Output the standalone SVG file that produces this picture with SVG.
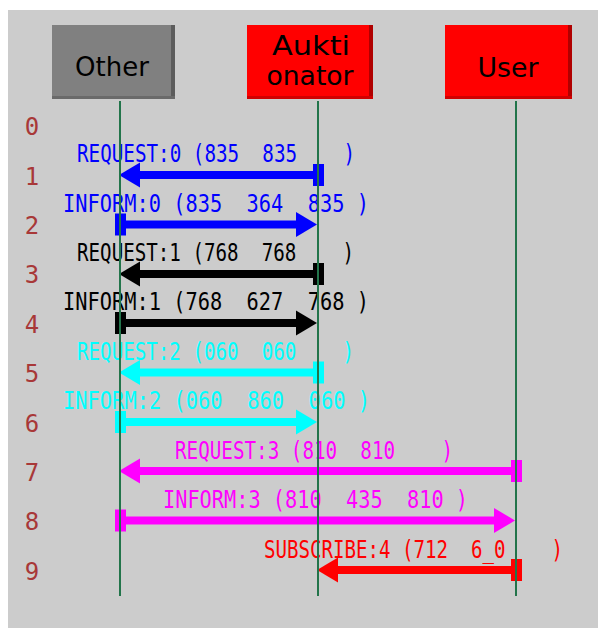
<svg xmlns="http://www.w3.org/2000/svg" width="598" height="628" viewBox="0 0 598 628">
<style>
.lbl{font-family:"DejaVu Sans Mono","Liberation Mono",monospace;font-size:24px;white-space:pre}
.num{font-family:"DejaVu Sans Mono","Liberation Mono",monospace;font-size:24px;fill:#a83838;text-anchor:middle}
.nt{font-family:"DejaVu Sans","Liberation Sans",sans-serif;font-size:27px;fill:#000;text-anchor:middle}
.life{stroke:#22744a;stroke-width:2}
.blue{fill:#0000ff}.black{fill:#000000}.cyan{fill:#00ffff}.mag{fill:#ff00ff}.red{fill:#ff0000}
</style>
<rect x="0" y="0" width="598" height="628" fill="#ffffff"/>
<rect x="8" y="10" width="590" height="618" fill="#cccccc"/>
<g id="node-other">
<rect x="52" y="25" width="123" height="74" fill="#808080"/>
<rect x="171" y="25" width="4" height="74" fill="#5c5c5c"/>
<rect x="52" y="96" width="123" height="3" fill="#6a6a6a"/>
<text class="nt" x="112" y="76" textLength="74" lengthAdjust="spacingAndGlyphs">Other</text>
</g>
<g id="node-auktionator">
<rect x="247" y="25" width="126" height="74" fill="#ff0000"/>
<rect x="369" y="25" width="4" height="74" fill="#b00000"/>
<rect x="247" y="96" width="126" height="3" fill="#d00000"/>
<text class="nt" x="311" y="55" textLength="78" lengthAdjust="spacingAndGlyphs">Aukti</text>
<text class="nt" x="310" y="85" textLength="87" lengthAdjust="spacingAndGlyphs">onator</text>
</g>
<g id="node-user">
<rect x="445" y="25" width="127" height="74" fill="#ff0000"/>
<rect x="568" y="25" width="4" height="74" fill="#b00000"/>
<rect x="445" y="96" width="127" height="3" fill="#d00000"/>
<text class="nt" x="508" y="77" textLength="61" lengthAdjust="spacingAndGlyphs">User</text>
</g>
<g id="row-numbers">
<text class="num" x="32" y="135">0</text>
<text class="num" x="32" y="184.5">1</text>
<text class="num" x="32" y="234">2</text>
<text class="num" x="32" y="283">3</text>
<text class="num" x="32" y="332.5">4</text>
<text class="num" x="32" y="382">5</text>
<text class="num" x="32" y="431.5">6</text>
<text class="num" x="32" y="481">7</text>
<text class="num" x="32" y="530">8</text>
<text class="num" x="32" y="579.5">9</text>
</g>
<g id="connectors" xml:space="preserve">
<g class="blue">
<text class="lbl" x="77" y="162" textLength="278" lengthAdjust="spacingAndGlyphs">REQUEST:0 (835  835    )</text>
<rect x="313" y="164" width="11" height="22"/><rect x="139" y="171" width="179" height="8"/><polygon points="119,175 140,162.5 140,187.5"/>
<text class="lbl" x="63" y="211.5" textLength="306" lengthAdjust="spacingAndGlyphs">INFORM:0 (835  364  835 )</text>
<rect x="115" y="213.5" width="11" height="22"/><rect x="120" y="220.5" width="177" height="8"/><polygon points="317,224.5 296,212 296,237"/>
</g>
<g class="black">
<text class="lbl" x="77" y="261" textLength="277" lengthAdjust="spacingAndGlyphs">REQUEST:1 (768  768    )</text>
<rect x="313" y="263" width="11" height="22"/><rect x="139" y="270" width="179" height="8"/><polygon points="119,274 140,261.5 140,286.5"/>
<text class="lbl" x="63" y="310" textLength="306" lengthAdjust="spacingAndGlyphs">INFORM:1 (768  627  768 )</text>
<rect x="115" y="312" width="11" height="22"/><rect x="120" y="319" width="177" height="8"/><polygon points="317,323 296,310.5 296,335.5"/>
</g>
<g class="cyan">
<text class="lbl" x="77" y="359.5" textLength="277" lengthAdjust="spacingAndGlyphs">REQUEST:2 (060  060    )</text>
<rect x="313" y="361.5" width="11" height="22"/><rect x="139" y="368.5" width="179" height="8"/><polygon points="119,372.5 140,360 140,385"/>
<text class="lbl" x="63" y="409" textLength="307" lengthAdjust="spacingAndGlyphs">INFORM:2 (060  860  060 )</text>
<rect x="115" y="411" width="11" height="22"/><rect x="120" y="418" width="177" height="8"/><polygon points="317,422 296,409.5 296,434.5"/>
</g>
<g class="mag">
<text class="lbl" x="175" y="458.5" textLength="278" lengthAdjust="spacingAndGlyphs">REQUEST:3 (810  810    )</text>
<rect x="511" y="460" width="11" height="22"/><rect x="139" y="467" width="377" height="8"/><polygon points="119,471 140,458.5 140,483.5"/>
<text class="lbl" x="163" y="507.5" textLength="305" lengthAdjust="spacingAndGlyphs">INFORM:3 (810  435  810 )</text>
<rect x="115" y="509.5" width="11" height="22"/><rect x="120" y="516.5" width="374" height="8"/><polygon points="515,520.5 494,508 494,533"/>
</g>
<g class="red">
<text class="lbl" x="264" y="557.5" textLength="299" lengthAdjust="spacingAndGlyphs">SUBSCRIBE:4 (712  6_0    )</text>
<rect x="511" y="559" width="11" height="22"/><rect x="337" y="566" width="179" height="8"/><polygon points="317,570 338,557.5 338,582.5"/>
</g>
</g>
<g id="lifelines">
<line class="life" x1="120" y1="101" x2="120" y2="596"/>
<line class="life" x1="318" y1="101" x2="318" y2="596"/>
<line class="life" x1="516" y1="101" x2="516" y2="596"/>
</g>
</svg>
